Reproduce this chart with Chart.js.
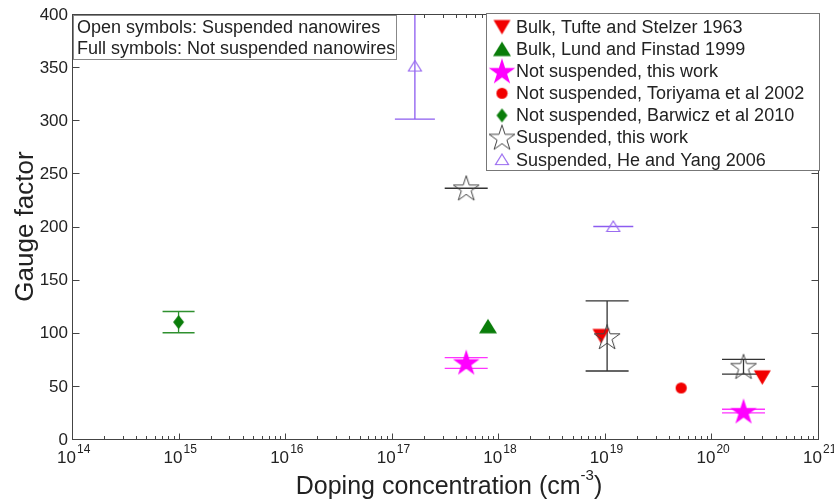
<!DOCTYPE html>
<html>
<head>
<meta charset="utf-8">
<script src="https://cdn.jsdelivr.net/npm/chart.js@4.4.1/dist/chart.umd.min.js"></script>
<style>
  html, body { margin: 0; padding: 0; background: #fff; }
  canvas { display: block; }
</style>
</head>
<body>
<canvas id="c" width="834" height="504"></canvas>
<script>
// ---- data: doping (cm^-3) vs gauge factor, error-bar low/high
const xExps = [14, 15, 16, 17, 18, 19, 20, 21];
const yTicks = [0, 50, 100, 150, 200, 250, 300, 350, 400];

const tufteX = [9.2e18, 3e20],  tufteY = [97, 58];
const lundX  = [8e17],          lundY  = [106];
const nsThisX = [5e17, 2e20],   nsThisY = [72, 26];
const nsThisLo = [66.5, 24.5],  nsThisHi = [76.5, 28];
const toriX  = [5.2e19],        toriY  = [48];
const barwX  = [1e15],          barwY  = [110];
const barwLo = [100],           barwHi = [120];
const susX   = [5e17, 1.05e19, 2e20], susY = [236, 96, 68];
const susLo  = [236, 64, 61],   susHi  = [236, 130, 75];
const heX    = [1.65e17, 1.2e19], heY = [351, 200];
const heLo   = [301, 200],      heHi   = [460, 200];

const seriesLabels = [
  "Bulk, Tufte and Stelzer 1963",
  "Bulk, Lund and Finstad 1999",
  "Not suspended, this work",
  "Not suspended, Toriyama et al 2002",
  "Not suspended, Barwicz et al 2010",
  "Suspended, this work",
  "Suspended, He and Yang 2006",
];
const noteLines = ["Open symbols: Suspended nanowires", "Full symbols: Not suspended nanowires"];

const FONT = '"Liberation Sans", Arial, sans-serif';

// ---- marker sprites
function sprite(w, h, draw) {
  const c = document.createElement("canvas");
  c.width = w; c.height = h;
  draw(c.getContext("2d"), w, h);
  return c;
}
function starPath(g, cx, cy, R) {
  const r = R * 0.382;
  g.beginPath();
  for (let k = 0; k < 10; k++) {
    const a = -Math.PI / 2 + k * Math.PI / 5, rad = k % 2 ? r : R;
    g.lineTo(cx + rad * Math.cos(a), cy + rad * Math.sin(a));
  }
  g.closePath();
}
const mkDown = sprite(19, 17, g => { g.fillStyle = "#f20000"; g.beginPath(); g.moveTo(1, 1.5); g.lineTo(18, 1.5); g.lineTo(9.5, 16); g.closePath(); g.fill(); });
const mkUp = sprite(20, 17, g => { g.fillStyle = "#0a7d0a"; g.beginPath(); g.moveTo(10, 1); g.lineTo(19, 15.5); g.lineTo(1, 15.5); g.closePath(); g.fill(); });
const mkStarFull = sprite(30, 30, g => { g.fillStyle = "#ff00ff"; starPath(g, 15, 16, 14); g.fill(); });
const mkDot = sprite(13, 13, g => { g.fillStyle = "#f20000"; g.beginPath(); g.arc(6.5, 6.5, 5.6, 0, Math.PI * 2); g.fill(); });
const mkDiamond = sprite(13, 16, g => { g.fillStyle = "#0a7d0a"; g.beginPath(); g.moveTo(6.5, 1); g.lineTo(12, 8); g.lineTo(6.5, 15); g.lineTo(1, 8); g.closePath(); g.fill(); });
const mkStarOpen = sprite(30, 30, g => { g.strokeStyle = "#444"; g.lineWidth = 1; starPath(g, 15, 16, 13.5); g.stroke(); });
const mkTriOpen = sprite(16, 13, g => { g.strokeStyle = "#9a6cf0"; g.lineWidth = 1.2; g.beginPath(); g.moveTo(8, 1); g.lineTo(14.5, 11.5); g.lineTo(1.5, 11.5); g.closePath(); g.stroke(); });

const pts = (xs, ys) => xs.map((x, i) => ({ x, y: ys[i] }));
const series = [
  { data: pts(tufteX, tufteY), img: mkDown },
  { data: pts(lundX, lundY), img: mkUp },
  { data: pts(nsThisX, nsThisY), img: mkStarFull, errLo: nsThisLo, errHi: nsThisHi, errColor: "#ff33ff", errCap: 43 },
  { data: pts(toriX, toriY), img: mkDot },
  { data: pts(barwX, barwY), img: mkDiamond, errLo: barwLo, errHi: barwHi, errColor: "#2f902f", errCap: 32 },
  { data: pts(susX, susY), img: mkStarOpen, errLo: susLo, errHi: susHi, errColor: "#333", errCap: 43 },
  { data: pts(heX, heY), img: mkTriOpen, errLo: heLo, errHi: heHi, errColor: "#8c5cf0", errCap: 40 },
];

// ---- error bars under the markers
const errorBars = {
  id: "errorBars",
  beforeDatasetsDraw(chart) {
    const { ctx, chartArea: a, scales: { x, y } } = chart;
    ctx.save();
    ctx.beginPath(); ctx.rect(a.left, a.top, a.right - a.left, a.bottom - a.top); ctx.clip();
    chart.data.datasets.forEach(ds => {
      if (!ds.errLo) return;
      ctx.strokeStyle = ds.errColor; ctx.lineWidth = 1.3;
      ds.data.forEach((p, i) => {
        const px = x.getPixelForValue(p.x), lo = y.getPixelForValue(ds.errLo[i]), hi = y.getPixelForValue(ds.errHi[i]);
        const w = ds.errCap / 2;
        ctx.beginPath();
        ctx.moveTo(px, lo); ctx.lineTo(px, hi);
        ctx.moveTo(px - w, lo); ctx.lineTo(px + w, lo);
        ctx.moveTo(px - w, hi); ctx.lineTo(px + w, hi);
        ctx.stroke();
      });
    });
    ctx.restore();
  },
};

// ---- MATLAB-style boxed axes, inward ticks, 10^n labels, titles, boxes
const axesDeco = {
  id: "axesDeco",
  afterDraw(chart) {
    const { ctx, chartArea: a, scales: { x, y } } = chart;
    const L = Math.round(a.left) + 0.5, R = Math.round(a.right) + 0.5, T = Math.round(a.top) + 0.5, B = Math.round(a.bottom) + 0.5;
    ctx.save();
    ctx.strokeStyle = "#444"; ctx.lineWidth = 1;
    ctx.strokeRect(L, T, R - L, B - T);

    ctx.beginPath();
    xExps.forEach((e, k) => {
      const px = Math.round(x.getPixelForValue(Math.pow(10, e))) + 0.5;
      ctx.moveTo(px, B); ctx.lineTo(px, B - 6);
      ctx.moveTo(px, T); ctx.lineTo(px, T + 6);
      if (k < xExps.length - 1) {
        for (let m = 2; m <= 9; m++) {
          const qx = Math.round(x.getPixelForValue(m * Math.pow(10, e))) + 0.5;
          ctx.moveTo(qx, B); ctx.lineTo(qx, B - 3.5);
          ctx.moveTo(qx, T); ctx.lineTo(qx, T + 3.5);
        }
      }
    });
    yTicks.forEach(v => {
      const py = Math.round(y.getPixelForValue(v)) + 0.5;
      ctx.moveTo(L, py); ctx.lineTo(L + 7, py);
      ctx.moveTo(R, py); ctx.lineTo(R - 7, py);
    });
    ctx.stroke();

    ctx.fillStyle = "#222";
    ctx.textBaseline = "middle"; ctx.textAlign = "right";
    ctx.font = "17px " + FONT;
    yTicks.forEach(v => ctx.fillText(String(v), a.left - 4, y.getPixelForValue(v) + 1));

    ctx.textBaseline = "alphabetic"; ctx.textAlign = "left";
    xExps.forEach(e => {
      const px = x.getPixelForValue(Math.pow(10, e));
      ctx.font = "17px " + FONT; ctx.fillText("10", px - 15, 463);
      ctx.font = "12px " + FONT; ctx.fillText(String(e), px + 5, 453);
    });

    // x title with superscript
    const t1 = "Doping concentration (cm", sup = "-3", t2 = ")";
    ctx.font = "25px " + FONT; const w1 = ctx.measureText(t1).width, w3 = ctx.measureText(t2).width;
    ctx.font = "15px " + FONT; const w2 = ctx.measureText(sup).width;
    let sx = (a.left + a.right) / 2 + 4 - (w1 + w2 + w3) / 2;
    ctx.font = "25px " + FONT; ctx.fillText(t1, sx, 494);
    ctx.font = "15px " + FONT; ctx.fillText(sup, sx + w1, 480);
    ctx.font = "25px " + FONT; ctx.fillText(t2, sx + w1 + w2, 494);

    // y title
    ctx.save();
    ctx.translate(33, (a.top + a.bottom) / 2);
    ctx.rotate(-Math.PI / 2);
    ctx.textAlign = "center"; ctx.font = "26px " + FONT;
    ctx.fillText("Gauge factor", 0, 0);
    ctx.restore();

    // note box (top left)
    ctx.fillStyle = "#fff"; ctx.fillRect(73, 15, 323, 44);
    ctx.strokeStyle = "#888"; ctx.strokeRect(73.5, 15.5, 323, 44);
    ctx.fillStyle = "#222"; ctx.font = "18px " + FONT; ctx.textBaseline = "middle";
    noteLines.forEach((s, i) => ctx.fillText(s, 77, 28 + i * 21.5));

    // legend box (top right)
    ctx.fillStyle = "#fff"; ctx.fillRect(486, 13, 334, 157);
    ctx.strokeStyle = "#777"; ctx.strokeRect(486.5, 13.5, 333, 157);
    chart.data.datasets.forEach((ds, i) => {
      const cy = 27 + i * 22.1;
      const img = ds.pointStyle;
      ctx.drawImage(img, 502 - img.width / 2, cy - img.height / 2);
      ctx.fillStyle = "#222";
      ctx.fillText(ds.label, 516, cy + 1);
    });
    ctx.restore();
  },
};

new Chart(document.getElementById("c"), {
  type: "scatter",
  data: {
    datasets: series.map((s, i) => ({
      label: seriesLabels[i],
      data: s.data,
      pointStyle: s.img,
      pointRadius: 8,
      showLine: false,
      order: series.length - i,
      errLo: s.errLo, errHi: s.errHi, errColor: s.errColor, errCap: s.errCap,
    })),
  },
  options: {
    responsive: false,
    animation: false,
    events: [],
    layout: { padding: { left: 72, right: 16, top: 14, bottom: 65 } },
    plugins: { legend: { display: false }, tooltip: { enabled: false } },
    scales: {
      x: { type: "logarithmic", min: 1e14, max: 1e21, display: false },
      y: { type: "linear", min: 0, max: 400, display: false },
    },
  },
  plugins: [errorBars, axesDeco],
});
</script>
</body>
</html>
